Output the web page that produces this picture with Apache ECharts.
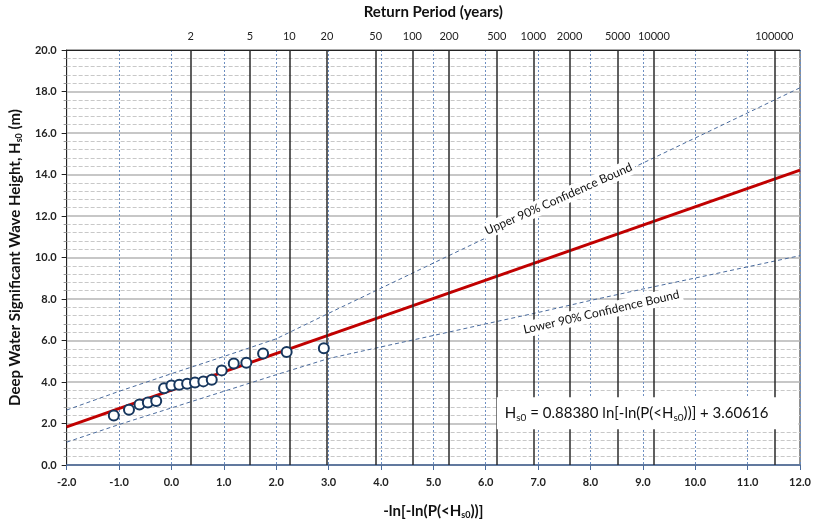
<!DOCTYPE html>
<html>
<head>
<meta charset="utf-8">
<script src="https://cdn.jsdelivr.net/npm/echarts@6/dist/echarts.min.js"></script>
<style>html,body{margin:0;padding:0;background:#fff;}#main{width:814px;height:527px;}</style>
</head>
<body>
<div id="main"></div>
<script>
// Observed data: reduced variate -ln[-ln(P)] and wave height Hs0 (m)
var obsX = [-1.10, -0.81, -0.61, -0.45, -0.29, -0.14, 0.00, 0.15, 0.30, 0.45, 0.61, 0.77, 0.96, 1.19, 1.43, 1.75, 2.20, 2.91];
var obsY = [2.39, 2.66, 2.92, 3.01, 3.09, 3.70, 3.83, 3.87, 3.91, 3.98, 4.03, 4.11, 4.56, 4.89, 4.93, 5.37, 5.45, 5.63];
// Fitted line end points
var fitX = [-2, 12];
var fitY = [1.839, 14.212];
// Confidence bounds
var boundX = [-2, -1, 0, 1, 2, 3, 4, 5, 6, 7, 8, 9, 10, 11, 12];
var upperY = [2.65, 3.55, 4.40, 5.23, 6.08, 7.31, 8.52, 9.73, 10.94, 12.15, 13.36, 14.55, 15.76, 16.97, 18.18];
var lowerY = [1.10, 1.95, 2.75, 3.55, 4.35, 5.13, 5.69, 6.24, 6.80, 7.35, 7.93, 8.48, 9.01, 9.55, 10.09];
// Return period tick labels (top axis) and their reduced-variate positions
var returnLabels = ['2', '5', '10', '20', '50', '100', '200', '500', '1000', '2000', '5000', '10000', '100000'];
var returnX = [0.367, 1.500, 2.250, 2.970, 3.902, 4.600, 5.296, 6.214, 6.907, 7.601, 8.517, 9.210, 11.513];

var FONT = 'Lato, "Open Sans", sans-serif';
function zip(a, b) { return a.map(function (v, i) { return [v, b[i]]; }); }

var chart = echarts.init(document.getElementById('main'));
var option = {
  animation: false,
  backgroundColor: '#fff',
  textStyle: { fontFamily: FONT },
  grid: { left: 66, right: 14, top: 47, bottom: 62, show: true, borderColor: '#222', borderWidth: 1, backgroundColor: 'transparent' },
  xAxis: [{
    type: 'value', position: 'bottom', min: -2, max: 12, interval: 1,
    axisLine: { show: true, onZero: false, lineStyle: { color: '#4a6a9a', width: 1.5 } },
    axisTick: { show: true, length: 5, lineStyle: { color: '#4a6a9a' } },
    axisLabel: { margin: 12, color: '#222', fontWeight: 'bold', fontSize: 11, fontFamily: FONT, formatter: function (v) { return v.toFixed(1); } },
    splitLine: { show: true, lineStyle: { color: '#6d8fc2', type: [2, 2], width: 1 } },
    name: '-ln[-ln(P(<H{s|s0}))]', nameLocation: 'middle', nameGap: 38,
    nameTextStyle: { fontSize: 15, fontWeight: 'bold', color: '#111', fontFamily: FONT,
      rich: { s: { fontSize: 9, fontWeight: 'bold', color: '#111', padding: [8, 0, 0, 0], fontFamily: FONT } } }
  }, {
    type: 'value', position: 'top', min: -2, max: 12, interval: 1,
    axisLine: { show: true, onZero: false, lineStyle: { color: '#222', width: 1 } },
    axisTick: { show: false }, axisLabel: { show: false }, splitLine: { show: false },
    name: 'Return Period (years)', nameLocation: 'middle', nameGap: 30,
    nameTextStyle: { fontSize: 15, fontWeight: 'bold', color: '#111', fontFamily: FONT }
  }],
  yAxis: {
    type: 'value', min: 0, max: 20, interval: 2,
    axisLine: { show: true, onZero: false, lineStyle: { color: '#222', width: 1 } },
    axisTick: { show: true, length: 5, lineStyle: { color: '#222' } },
    minorTick: { show: true, splitNumber: 5, length: 3, lineStyle: { color: '#999' } },
    axisLabel: { margin: 10, color: '#222', fontWeight: 'bold', fontSize: 11, fontFamily: FONT, formatter: function (v) { return v.toFixed(1); } },
    splitLine: { show: true, lineStyle: { color: '#b5b5b5', width: 1.5 } },
    minorSplitLine: { show: true, lineStyle: { color: '#c8c8c8', type: [4, 2], width: 1 } },
    name: 'Deep Water Significant Wave Height, H{s|s0} (m)', nameLocation: 'middle', nameGap: 42,
    nameTextStyle: { fontSize: 15, fontWeight: 'bold', color: '#111', fontFamily: FONT,
      rich: { s: { fontSize: 9, fontWeight: 'bold', color: '#111', padding: [8, 0, 0, 0], fontFamily: FONT } } }
  },
  series: [{
    type: 'line', name: 'returnLines', data: [], silent: true,
    markLine: {
      silent: true, symbol: 'none', animation: false,
      lineStyle: { color: '#2a2a2a', type: 'solid', width: 1.5 },
      label: { show: true, position: 'end', formatter: '{b}', color: '#222', fontSize: 11, fontFamily: FONT, distance: 8 },
      emphasis: { disabled: true },
      data: returnX.map(function (x, i) { return { xAxis: x, name: returnLabels[i] }; })
    }
  }, {
    type: 'line', name: 'Upper', data: zip(boundX, upperY), showSymbol: false, silent: true,
    lineStyle: { color: '#4a6b9d', type: [4, 3], width: 1 }
  }, {
    type: 'line', name: 'Lower', data: zip(boundX, lowerY), showSymbol: false, silent: true,
    lineStyle: { color: '#4a6b9d', type: [4, 3], width: 1 }
  }, {
    type: 'line', name: 'Fit', data: zip(fitX, fitY), showSymbol: false, silent: true,
    lineStyle: { color: '#c00000', width: 3 }
  }, {
    type: 'scatter', name: 'Observed', data: zip(obsX, obsY), symbol: 'circle', symbolSize: 10,
    itemStyle: { color: '#ffffff', borderColor: '#17375e', borderWidth: 2, opacity: 1 }, z: 5
  }]
};
chart.setOption(option);

function px(x, y) { return chart.convertToPixel({ xAxisIndex: 0, yAxisIndex: 0 }, [x, y]); }
var pU = px(7.39, 12.82), pL = px(8.21, 7.37), pE = px(9.09, 2.49);
chart.setOption({
  graphic: [{
    type: 'text', x: pU[0], y: pU[1], rotation: 24 * Math.PI / 180, z: 100,
    style: { text: 'Upper 90% Confidence Bound', fontSize: 12, fontFamily: FONT, fill: '#111', align: 'center', verticalAlign: 'middle', backgroundColor: '#fff', padding: [2, 3] }
  }, {
    type: 'text', x: pL[0], y: pL[1], rotation: 13 * Math.PI / 180, z: 100,
    style: { text: 'Lower 90% Confidence Bound', fontSize: 12, fontFamily: FONT, fill: '#111', align: 'center', verticalAlign: 'middle', backgroundColor: '#fff', padding: [2, 3] }
  }, {
    type: 'text', x: pE[0], y: pE[1], z: 100,
    style: {
      text: '{a|H}{s|s0}{a| = 0.88380 ln[-ln(P(<H}{s|s0}{a|))] + 3.60616}',
      align: 'center', verticalAlign: 'middle', backgroundColor: '#fff', padding: [7, 30, 7, 8],
      rich: {
        a: { fontSize: 15, fontFamily: FONT, fill: '#111', color: '#111' },
        s: { fontSize: 10, fontFamily: FONT, fill: '#111', color: '#111', padding: [8, 0, 0, 0] }
      }
    }
  }]
});
</script>
</body>
</html>
